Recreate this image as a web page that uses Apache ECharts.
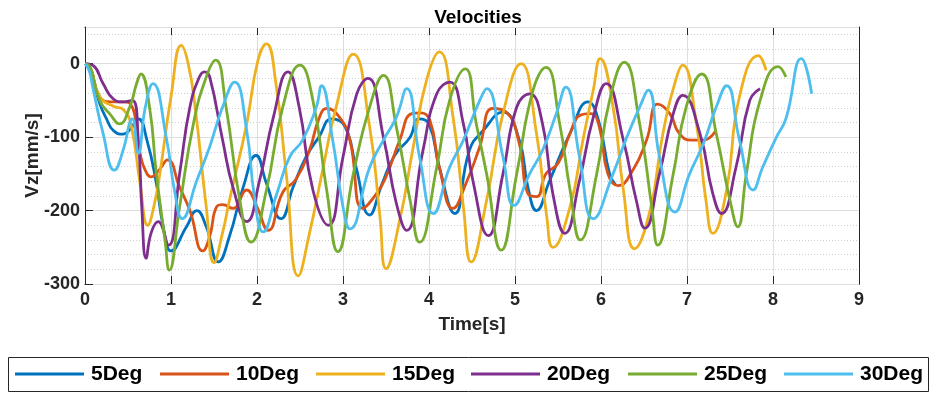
<!DOCTYPE html>
<html>
<head>
<meta charset="utf-8">
<script src="https://cdn.jsdelivr.net/npm/echarts@6/dist/echarts.min.js"></script>
<style>html,body{margin:0;padding:0;background:#fff;}#c{width:933px;height:394px;}</style>
</head>
<body>
<div id="c"></div>
<script>
// ---- data ----
const names = ['5Deg', '10Deg', '15Deg', '20Deg', '25Deg', '30Deg'];
const colors = ['#0072BD', '#D95319', '#EDB120', '#7E2F8E', '#77AC30', '#4DBEEE'];

const t5 = [0,0.06,0.11,0.17,0.25,0.33,0.44,0.52,0.62,0.72,0.83,0.91,1.0,1.18,1.3,1.41,1.55,1.68,1.84,1.99,2.11,2.28,2.42,2.57,2.72,2.87,3.02,3.15,3.31,3.45,3.6,3.78,3.88,4.0,4.12,4.3,4.47,4.63,4.86,5.05,5.15,5.25,5.4,5.64,5.85,5.97,6.1,6.17];
const v5 = [0,-5,-27,-54,-75,-91,-96,-90,-75,-104,-163,-222,-255,-222,-200,-222,-270,-235,-168,-125,-163,-211,-168,-127,-100,-75,-85,-140,-206,-165,-125,-100,-75,-82,-141,-204,-118,-91,-66,-104,-168,-200,-160,-95,-52,-77,-150,-165];

const t10 = [0,0.06,0.17,0.3,0.42,0.52,0.64,0.7,0.77,0.86,0.96,1.1,1.22,1.37,1.45,1.53,1.6,1.72,1.88,2.0,2.13,2.3,2.45,2.61,2.72,2.81,2.96,3.08,3.23,3.39,3.5,3.66,3.8,3.9,4.01,4.12,4.28,4.43,4.59,4.74,4.9,5.05,5.15,5.25,5.36,5.5,5.64,5.76,5.88,5.98,6.08,6.2,6.37,6.53,6.66,6.8,6.91,7.05,7.19,7.33];
const v10 = [0,-5,-45,-52,-52,-54,-122,-145,-154,-145,-131,-168,-200,-255,-235,-195,-192,-197,-172,-195,-227,-175,-158,-118,-75,-61,-73,-104,-197,-177,-154,-104,-68,-67,-77,-141,-197,-163,-113,-61,-66,-109,-177,-181,-150,-136,-95,-70,-68,-86,-150,-166,-145,-104,-55,-68,-95,-104,-104,-92];

const t15 = [0,0.06,0.17,0.33,0.45,0.54,0.64,0.73,0.8,0.87,1.0,1.12,1.2,1.28,1.41,1.5,1.6,1.68,1.88,2.01,2.11,2.22,2.34,2.48,2.61,2.77,2.92,3.12,3.31,3.43,3.5,3.66,3.81,3.97,4.12,4.28,4.4,4.49,4.67,4.86,5.07,5.25,5.37,5.44,5.64,5.79,5.91,5.99,6.14,6.26,6.39,6.57,6.72,6.88,6.95,7.11,7.22,7.3,7.46,7.61,7.83,7.92];
const v15 = [0,-5,-45,-58,-63,-86,-163,-220,-195,-150,-45,25,0,-59,-195,-271,-230,-186,-82,4,27,-27,-150,-289,-231,-141,-59,13,-86,-209,-279,-213,-118,-23,16,-73,-195,-270,-186,-68,0,-95,-209,-250,-195,-104,-36,7,-59,-172,-252,-200,-95,-18,-2,-82,-186,-231,-172,-45,11,-9];

const t20 = [0,0.1,0.21,0.33,0.44,0.55,0.62,0.66,0.71,0.77,0.85,0.97,1.1,1.22,1.33,1.39,1.45,1.6,1.72,1.88,2.03,2.19,2.36,2.49,2.65,2.83,3.0,3.16,3.29,3.47,3.62,3.74,3.93,4.09,4.24,4.4,4.51,4.69,4.86,5.02,5.17,5.32,5.44,5.58,5.75,5.91,6.06,6.26,6.41,6.51,6.68,6.84,6.95,7.15,7.3,7.4,7.57,7.73,7.85];
const v20 = [0,-3,-27,-48,-52,-50,-104,-195,-265,-230,-215,-247,-150,-59,-18,-11,-18,-104,-168,-215,-159,-73,-11,-59,-172,-220,-127,-41,-20,-100,-190,-227,-118,-41,-25,-82,-159,-234,-150,-59,-41,-82,-177,-231,-159,-73,-27,-104,-186,-224,-150,-68,-43,-95,-177,-204,-141,-50,-34];

const t25 = [0,0.06,0.17,0.3,0.4,0.52,0.6,0.65,0.75,0.83,0.93,0.98,1.1,1.26,1.41,1.52,1.64,1.8,1.93,2.11,2.3,2.5,2.65,2.81,2.94,3.12,3.31,3.47,3.62,3.78,3.89,4.09,4.24,4.42,4.55,4.67,4.84,5.02,5.21,5.36,5.52,5.64,5.76,5.95,6.1,6.27,6.45,6.59,6.66,6.84,6.99,7.17,7.34,7.5,7.59,7.69,7.85,8.06,8.15];
const v25 = [0,-5,-50,-70,-82,-59,-27,-14,-59,-150,-240,-281,-195,-82,-18,5,-59,-186,-243,-172,-59,-2,-50,-172,-256,-150,-59,-16,-86,-186,-243,-141,-50,-7,-82,-150,-254,-150,-36,-5,-82,-172,-240,-150,-50,2,-82,-195,-247,-150,-59,-14,-95,-186,-222,-150,-50,-4,-18];

const t30 = [0,0.05,0.09,0.21,0.34,0.45,0.52,0.55,0.62,0.7,0.79,0.95,1.04,1.13,1.3,1.45,1.6,1.74,1.88,1.97,2.07,2.23,2.38,2.53,2.69,2.75,2.88,3.0,3.08,3.31,3.47,3.62,3.74,3.89,4.05,4.24,4.4,4.59,4.67,4.86,4.99,5.17,5.32,5.48,5.59,5.75,5.91,6.14,6.3,6.45,6.55,6.68,6.86,7.03,7.19,7.34,7.46,7.61,7.77,7.88,8.04,8.15,8.33,8.45];
const v30 = [0,-10,-32,-95,-145,-115,-80,-75,-122,-60,-27,-104,-172,-211,-159,-113,-59,-25,-91,-181,-229,-177,-127,-104,-59,-30,-104,-195,-225,-141,-104,-73,-34,-127,-204,-141,-104,-50,-34,-127,-193,-150,-118,-68,-32,-127,-211,-150,-100,-59,-36,-127,-202,-150,-109,-59,-30,-104,-172,-141,-100,-75,7,-41];

const xTicks = [0,1,2,3,4,5,6,7,8,9];
const yTicks = [-300,-200,-100,0];

const times = [t5, t10, t15, t20, t25, t30];
const vals = [v5, v10, v15, v20, v25, v30];

// ---- chart ----
const chart = echarts.init(document.getElementById('c'));
const FONT = 'Liberation Sans';
const AX = '#262626';

const series = names.map((n, i) => ({
  name: n,
  type: 'line',
  xAxisIndex: 0,
  yAxisIndex: 0,
  data: times[i].map((t, k) => [t, vals[i][k]]),
  smooth: 0.5,
  symbol: 'none',
  lineStyle: { width: 2.8, color: colors[i] },
  itemStyle: { color: colors[i] },
  clip: true,
  z: 3
}));

const legendLefts = [15, 160, 316, 471, 628, 784];
const legends = names.map((n, i) => ({
  data: [{ name: n, icon: 'rect' }],
  left: legendLefts[i],
  top: 362,
  padding: 0,
  itemWidth: 69,
  itemHeight: 3,
  itemGap: 0,
  textStyle: { fontFamily: FONT, fontWeight: 'bold', fontSize: 21, color: '#000', lineHeight: 24, padding: [0, 0, 0, 2] },
  selectedMode: false
}));

chart.setOption({
  animation: false,
  backgroundColor: '#fff',
  title: {
    text: 'Velocities',
    left: 473, top: 3, textAlign: 'center',
    textStyle: { fontFamily: FONT, fontWeight: 'bold', fontSize: 19, color: '#000' }
  },
  legend: legends,
  grid: { left: 85, right: 74, top: 27, bottom: 110, containLabel: false },
  graphic: [{
    type: 'rect', left: 8, top: 357, z: 0,
    shape: { width: 920, height: 34 },
    style: { fill: '#fff', stroke: AX, lineWidth: 1 }
  }],
  xAxis: [{
    type: 'value', min: xTicks[0], max: xTicks[xTicks.length - 1], interval: 1,
    position: 'bottom',
    name: 'Time[s]', nameLocation: 'middle', nameGap: 31,
    nameTextStyle: { fontFamily: FONT, fontWeight: 'bold', fontSize: 19, color: AX },
    axisLine: { show: true, onZero: false, lineStyle: { color: AX, width: 1 } },
    axisTick: { show: true, inside: true, length: 8, lineStyle: { color: AX } },
    axisLabel: { fontFamily: FONT, fontWeight: 'bold', fontSize: 18, color: AX, margin: 7 },
    splitLine: { show: true, lineStyle: { color: '#dedede', width: 1 } }
  }, {
    type: 'value', min: xTicks[0], max: xTicks[xTicks.length - 1], interval: 1,
    position: 'top',
    axisLine: { show: true, onZero: false, lineStyle: { color: AX, width: 1 } },
    axisTick: { show: true, inside: true, length: 8, lineStyle: { color: AX } },
    axisLabel: { show: false },
    splitLine: { show: false }
  }],
  yAxis: [{
    type: 'value', min: yTicks[0], max: 50, interval: 100,
    position: 'left',
    name: 'Vz[mm/s]', nameLocation: 'middle', nameGap: 43, nameRotate: 90,
    nameMoveOverlap: false,
    nameTextStyle: { fontFamily: FONT, fontWeight: 'bold', fontSize: 19, color: AX },
    axisLine: { show: true, onZero: false, lineStyle: { color: AX, width: 1 } },
    axisTick: { show: true, inside: true, length: 8, lineStyle: { color: AX } },
    axisLabel: { fontFamily: FONT, fontWeight: 'bold', fontSize: 18, color: AX, margin: 5, showMaxLabel: false },
    splitLine: { show: true, lineStyle: { color: '#dedede', width: 1 } },
    z: 2
  }, {
    type: 'value', min: yTicks[0], max: 50, interval: 100,
    position: 'right',
    axisLine: { show: true, onZero: false, lineStyle: { color: AX, width: 1 } },
    axisTick: { show: true, inside: true, length: 8, lineStyle: { color: AX } },
    axisLabel: { show: false },
    splitLine: { show: false }
  }, {
    type: 'value', min: yTicks[0], max: 50, interval: 20,
    position: 'left', offset: 0,
    axisLine: { show: false }, axisTick: { show: false }, axisLabel: { show: false },
    splitLine: { show: true, lineStyle: { color: '#cfcfcf', width: 1, type: [1, 2] } },
    z: 1
  }],
  series: series
});
</script>
</body>
</html>
